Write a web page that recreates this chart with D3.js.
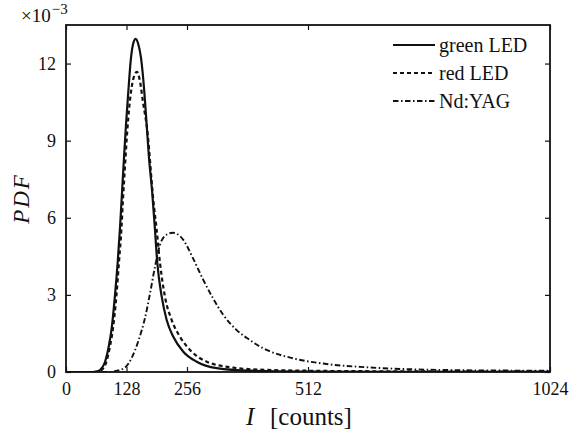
<!DOCTYPE html>
<html>
<head>
<meta charset="utf-8">
<script src="https://cdn.jsdelivr.net/npm/d3@7"></script>
<style>
  html, body { margin: 0; padding: 0; background: #fff; }
  svg { display: block; }
  svg text { font-family: "Liberation Serif", "DejaVu Serif", serif !important; fill: #111; }
</style>
</head>
<body>
<svg id="chart" width="569" height="431"></svg>
<script>
// Intensity (counts) and PDF values (x 1e-3) for each light source
const greenI   = [0, 50, 65, 71.9, 82.5, 91.0, 96.7, 103.7, 109.4, 114.2, 117.8, 122.7, 126.9, 131.8, 137.5, 142.5, 147.5, 153, 158.7, 165.7, 170.7, 175.6, 182, 188.3, 193.2, 202.5, 213.0, 227.0, 248.2, 276.5, 318.8, 389, 500, 700, 1024];
const greenPDF = [0, 0, 0.02, 0.08, 0.39, 1.05, 1.71, 3.00, 4.28, 5.60, 6.75, 8.33, 9.61, 10.90, 12.22, 12.80, 12.96, 12.75, 12.22, 10.90, 9.61, 8.33, 7.08, 5.52, 4.24, 2.93, 2.02, 1.37, 0.79, 0.40, 0.15, 0.05, 0.02, 0.01, 0.005];

const redI   = [0, 52, 67, 74, 84.6, 93.1, 99.4, 106.8, 112.1, 117.4, 120.5, 124.8, 129.7, 137.5, 143.9, 150.2, 156.6, 162.9, 172.0, 184.7, 191.9, 198.9, 209.4, 223.6, 241.2, 262.3, 297.7, 354.0, 424.6, 512, 700, 1024];
const redPDF = [0, 0, 0.02, 0.06, 0.35, 1.0, 1.7, 3.0, 4.28, 5.6, 6.7, 8.0, 9.4, 10.9, 11.5, 11.68, 11.3, 10.5, 9.4, 6.69, 5.52, 4.24, 2.93, 2.02, 1.37, 0.86, 0.40, 0.17, 0.08, 0.05, 0.025, 0.012];

const yagI   = [0, 90, 110, 124.8, 139.0, 153.0, 167.1, 177.7, 188.3, 198.9, 211.6, 225.7, 248.2, 269.3, 290.5, 311.6, 332.8, 361.1, 389.3, 410.4, 428.0, 480.9, 551.6, 622.0, 692.5, 763.1, 833.6, 1024];
const yagPDF = [0, 0, 0.06, 0.17, 0.55, 1.2, 2.1, 3.05, 4.1, 4.95, 5.33, 5.42, 5.14, 4.40, 3.58, 2.85, 2.22, 1.63, 1.24, 0.99, 0.83, 0.53, 0.31, 0.20, 0.13, 0.09, 0.07, 0.05];

const seriesNames = ["green LED", "red LED", "Nd:YAG"];
const xTicks = [0, 128, 256, 512, 1024];
const yTicks = [0, 3, 6, 9, 12];

const series = [
  { name: seriesNames[0], xs: greenI, ys: greenPDF, dash: null, width: 2.2 },
  { name: seriesNames[1], xs: redI, ys: redPDF, dash: "4,3", width: 2.2 },
  { name: seriesNames[2], xs: yagI, ys: yagPDF, dash: "5.5,2.5,1.5,2.5", width: 1.9 }
];

const svg = d3.select("#chart");
const margin = { left: 66, right: 19, top: 25, bottom: 59 };
const W = 569, H = 431;
const serif = '"Liberation Serif", "DejaVu Serif", serif';

const x = d3.scaleLinear().domain([0, 1024]).range([margin.left, W - margin.right]);
const y = d3.scaleLinear().domain([0, 13.5]).range([H - margin.bottom, margin.top]);

const line = d3.line()
  .x(d => x(d[0]))
  .y(d => y(d[1]))
  .curve(d3.curveMonotoneX);

// Clip curves to the axes box
svg.append("clipPath").attr("id", "plotclip")
  .append("rect")
  .attr("x", x(0)).attr("y", y(13.5))
  .attr("width", x(1024) - x(0)).attr("height", y(0) - y(13.5));

const plot = svg.append("g").attr("clip-path", "url(#plotclip)");
series.forEach(s => {
  plot.append("path")
    .datum(s.xs.map((v, i) => [v, s.ys[i]]))
    .attr("d", line)
    .attr("fill", "none")
    .attr("stroke", "#111")
    .attr("stroke-width", s.width)
    .attr("stroke-dasharray", s.dash);
});

// Axes: ticks pointing inwards on all four sides
const tickLen = 5;
const fs = 18;
const fmt = d3.format("d");
const axB = svg.append("g").attr("transform", `translate(0,${y(0)})`)
  .call(d3.axisBottom(x).tickValues(xTicks).tickFormat(fmt).tickSizeInner(-tickLen).tickSizeOuter(0).tickPadding(10));
const axT = svg.append("g").attr("transform", `translate(0,${y(13.5)})`)
  .call(d3.axisTop(x).tickValues(xTicks).tickSizeInner(-tickLen).tickSizeOuter(0).tickFormat(""));
const axL = svg.append("g").attr("transform", `translate(${x(0)},0)`)
  .call(d3.axisLeft(y).tickValues(yTicks).tickFormat(fmt).tickSizeInner(-tickLen).tickSizeOuter(0).tickPadding(10));
const axR = svg.append("g").attr("transform", `translate(${x(1024)},0)`)
  .call(d3.axisRight(y).tickValues(yTicks).tickSizeInner(-tickLen).tickSizeOuter(0).tickFormat(""));

[axB, axT, axL, axR].forEach(a => {
  a.attr("font-family", serif).attr("font-size", fs);
  a.select(".domain").remove();
  a.selectAll(".tick line").attr("stroke", "#111").attr("stroke-width", 1.2);
  a.selectAll(".tick text").attr("fill", "#111");
});
axB.selectAll(".tick text").attr("dy", "0.71em");

// Axes box
svg.append("rect")
  .attr("x", x(0)).attr("y", y(13.5))
  .attr("width", x(1024) - x(0)).attr("height", y(0) - y(13.5))
  .attr("fill", "none").attr("stroke", "#111").attr("stroke-width", 1.8);

// Exponent multiplier
const mult = svg.append("text").attr("x", 21).attr("y", 22)
  .attr("font-family", serif).attr("font-size", 19);
mult.append("tspan").text("×10");
mult.append("tspan").attr("dy", -8).attr("dx", 1).attr("font-size", 15).text("−3");

// Axis titles
svg.append("text")
  .attr("transform", `translate(29,${(y(0) + y(13.5)) / 2}) rotate(-90)`)
  .attr("text-anchor", "middle")
  .attr("font-family", serif).attr("font-size", 23)
  .attr("font-style", "italic")
  .attr("letter-spacing", 2)
  .text("PDF");

const xl = svg.append("text")
  .attr("x", 246).attr("y", 425)
  .attr("font-family", serif).attr("font-size", 25);
xl.append("tspan").attr("font-style", "italic").text("I");
xl.append("tspan").attr("x", 270).text("[counts]");

// Legend
const lg = svg.append("g");
series.forEach((s, i) => {
  const ly = 45 + i * 28;
  lg.append("line")
    .attr("x1", 393).attr("x2", 435).attr("y1", ly).attr("y2", ly)
    .attr("stroke", "#111").attr("stroke-width", s.width)
    .attr("stroke-dasharray", s.dash);
  lg.append("text")
    .attr("x", 439).attr("y", ly).attr("dy", "0.33em")
    .attr("font-family", serif).attr("font-size", 20)
    .text(s.name);
});
</script>
</body>
</html>
